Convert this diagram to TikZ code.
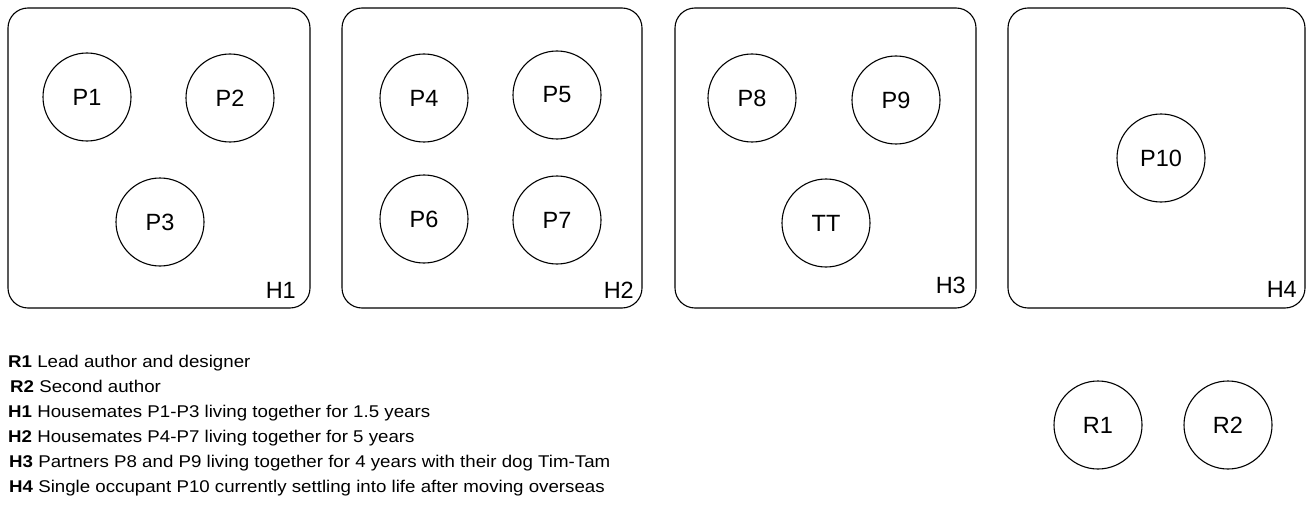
\documentclass[tikz,border=0pt]{standalone}
\usepackage{fontspec}
\setmainfont{Liberation Sans}
\newcommand{\legtext}[1]{\scalebox{1.1}[1]{#1}}
\begin{document}
\begin{tikzpicture}[x=1pt,y=-1pt,
  house/.style={draw=black,line width=1.1pt,rounded corners=20pt,minimum width=#1,minimum height=300pt,inner sep=0pt},
  person/.style={draw=black,line width=1.1pt,circle,minimum size=88pt,inner sep=0pt,font=\fontsize{23.5}{27}\selectfont},
  hlabel/.style={anchor=base east,inner sep=0pt,font=\fontsize{23.5}{27}\selectfont},
  legend/.style={anchor=base west,inner sep=0pt,font=\fontsize{17}{20}\selectfont}]
\useasboundingbox (0,0) rectangle (1306,508);
% houses
\node[house=302pt] (H1) at (159,158) {};
\node[house=300pt] (H2) at (492,158) {};
\node[house=301pt] (H3) at (825.5,158) {};
\node[house=297pt] (H4) at (1156.5,158) {};
\node[hlabel] (H1l) at (296,298) {H1};
\node[hlabel] (H2l) at (634,298) {H2};
\node[hlabel] (H3l) at (966,293) {H3};
\node[hlabel] (H4l) at (1297,297) {H4};
% people
\node[person] (P1) at (87,97) {P1};
\node[person] (P2) at (230,98) {P2};
\node[person] (P3) at (160,222) {P3};
\node[person] (P4) at (424,98) {P4};
\node[person] (P5) at (557,95) {P5};
\node[person] (P6) at (424,219) {P6};
\node[person] (P7) at (557,220) {P7};
\node[person] (P8) at (752,98) {P8};
\node[person] (P9) at (896,100) {P9};
\node[person] (TT) at (826,223) {TT};
\node[person] (P10) at (1161,158) {P10};
\node[person] (R1) at (1098,425) {R1};
\node[person] (R2) at (1228,425) {R2};
% legend
\node[legend] (L1) at (8,367) {\legtext{\textbf{R1} Lead author and designer}};
\node[legend] (L2) at (10,392) {\legtext{\textbf{R2} Second author}};
\node[legend] (L3) at (8,417) {\legtext{\textbf{H1} Housemates P1-P3 living together for 1.5 years}};
\node[legend] (L4) at (8,442) {\legtext{\textbf{H2} Housemates P4-P7 living together for 5 years}};
\node[legend] (L5) at (9,467) {\legtext{\textbf{H3} Partners P8 and P9 living together for 4 years with their dog Tim-Tam}};
\node[legend] (L6) at (9,492) {\legtext{\textbf{H4} Single occupant P10 currently settling into life after moving overseas}};
\end{tikzpicture}
\end{document}
